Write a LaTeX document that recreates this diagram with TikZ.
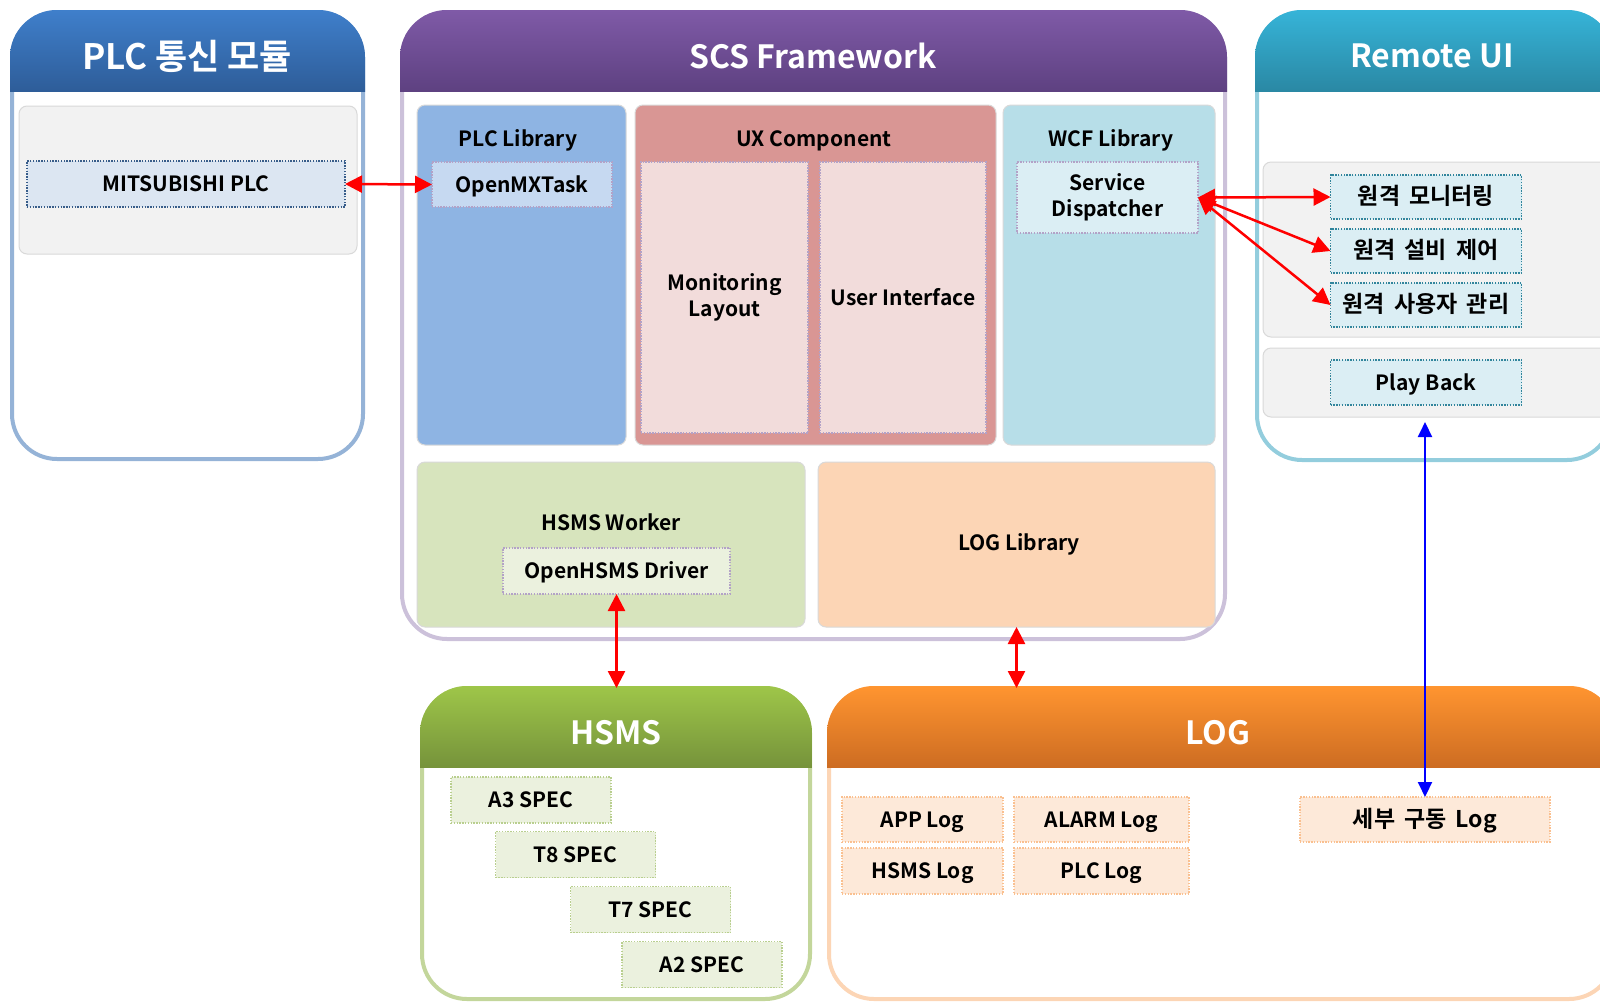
\documentclass[tikz,border=0pt]{standalone}
\usepackage{fontspec}
\setmainfont{Noto Sans CJK KR Bold}
\usetikzlibrary{arrows.meta,calc}

\definecolor{plcframe}{HTML}{95B3D7}
\definecolor{plctop}{HTML}{3F7FCB}
\definecolor{plcbot}{HTML}{2E5D99}
\definecolor{scsframe}{HTML}{CCC1DA}
\definecolor{scstop}{HTML}{7F5AA7}
\definecolor{scsbot}{HTML}{5E4181}
\definecolor{remframe}{HTML}{93CDDD}
\definecolor{remtop}{HTML}{36B4D8}
\definecolor{rembot}{HTML}{2A88A4}
\definecolor{hsmsframe}{HTML}{C3D69B}
\definecolor{hsmstop}{HTML}{9EC649}
\definecolor{hsmsbot}{HTML}{76933B}
\definecolor{logframe}{HTML}{FCD5B5}
\definecolor{logtop}{HTML}{FF9530}
\definecolor{logbot}{HTML}{CD6C22}
\definecolor{plclib}{HTML}{8EB4E3}
\definecolor{uxcomp}{HTML}{D99694}
\definecolor{wcflib}{HTML}{B7DEE8}
\definecolor{hsmswork}{HTML}{D7E4BD}
\definecolor{loglib}{HTML}{FCD5B5}
\definecolor{greypanel}{HTML}{F2F2F2}
\definecolor{panelline}{HTML}{D9D9D9}
\definecolor{lavender}{HTML}{B3A2C7}
\definecolor{mitsufill}{HTML}{DCE6F2}
\definecolor{mitsuline}{HTML}{385D8A}
\definecolor{mxfill}{HTML}{C6D9F1}
\definecolor{uxfill}{HTML}{F2DCDB}
\definecolor{bluefill}{HTML}{DBEEF4}
\definecolor{tealline}{HTML}{31859C}
\definecolor{greenfill}{HTML}{EBF1DE}
\definecolor{greenline}{HTML}{B9CF8F}
\definecolor{orangefill}{HTML}{FDE9D9}
\definecolor{orangeline}{HTML}{FAC090}

\newcommand\widespace{\spaceskip=0.4em\relax}

\tikzset{
  frame/.style={draw=#1, line width=4pt, fill=white, rounded corners=45pt,
    inner sep=0pt, outer sep=0pt},
  panel/.style={fill=#1, draw=panelline, line width=1pt, rounded corners=8pt,
    inner sep=0pt, outer sep=0pt},
  dbox/.style 2 args={fill=#1, draw=#2, line width=1.3pt,
    dash pattern=on 1.4pt off 1.4pt, inner sep=0pt, outer sep=0pt,
    font=\fontsize{21}{25}\selectfont, align=center,
    text height=15pt, text depth=0pt},
  twoline/.style={text height=, text depth=, font=\fontsize{21}{26}\selectfont},
  kor/.style={font=\fontsize{23}{26}\selectfont\widespace},
  title/.style={text=white, font=\fontsize{32}{38}\selectfont, inner sep=0pt},
  kortitle/.style={font=\fontsize{35}{40}\selectfont},
  lbl/.style={text=black, font=\fontsize{21}{25}\selectfont, align=center, inner sep=0pt,
    text height=15pt, text depth=0pt},
  redarrow/.style={draw=red, line width=2.5pt,
    {Triangle[length=17pt,width=17pt]}-{Triangle[length=17pt,width=17pt]}},
  bluearrow/.style={draw=blue, line width=2pt,
    {Triangle[length=15pt,width=14pt]}-{Triangle[length=15pt,width=14pt]}},
}

% gradient header band clipped to the rounded frame outline
\newcommand\headerband[7]{%
  \begin{scope}
    \clip[rounded corners=47pt] (#1-2,#2-2) rectangle (#3+2,#4+2);
    \shade[top color=#6, bottom color=#7] (#1-2,#2-2) rectangle (#3+2,#5);
  \end{scope}}

\begin{document}
\begin{tikzpicture}[x=1pt,y=-1pt]
\useasboundingbox (0,0) rectangle (1600,1002);
\clip (0,0) rectangle (1600,1002);

% ---------- outer frames ----------
\node[frame=plcframe, minimum width=351pt, minimum height=447pt] (plcmod) at (187.5,235.5) {};
\node[frame=scsframe, minimum width=823pt, minimum height=627pt] (scs) at (813.5,325.5) {};
\node[frame=remframe, minimum width=355pt, minimum height=448pt] (remote) at (1434.5,236) {};
\node[frame=hsmsframe, minimum width=388pt, minimum height=311pt] (hsms) at (616,843.5) {};
\node[frame=logframe, minimum width=785pt, minimum height=311pt] (logf) at (1221.5,843.5) {};

\headerband{12}{12}{363}{459}{91}{plctop}{plcbot}
\headerband{402}{12}{1225}{639}{91}{scstop}{scsbot}
\headerband{1257}{12}{1612}{460}{91}{remtop}{rembot}
\headerband{422}{688}{810}{999}{767}{hsmstop}{hsmsbot}
\headerband{829}{688}{1614}{999}{767}{logtop}{logbot}

\node[title, kortitle] (plctitle) at (187,56) {PLC 통신 모듈};
\node[title] (scstitle) at (813,56) {SCS Framework};
\node[title] (remtitle) at (1432,56) {Remote UI};
\node[title] (hsmstitle) at (616,733) {HSMS};
\node[title] (logtitle) at (1218,733) {LOG};

% ---------- PLC communication module ----------
\node[panel=greypanel, minimum width=338pt, minimum height=148pt] (plcpanel) at (188,180) {};
\node[dbox={mitsufill}{mitsuline}, minimum width=318pt, minimum height=46pt] (mitsu) at (186,184) {MITSUBISHI PLC};

% ---------- SCS Framework ----------
\node[panel=plclib, minimum width=209pt, minimum height=340pt] (plclibp) at (521.5,275) {};
\node[panel=uxcomp, minimum width=361pt, minimum height=340pt] (uxp) at (815.5,275) {};
\node[panel=wcflib, minimum width=212pt, minimum height=340pt] (wcfp) at (1109,275) {};
\node[panel=hsmswork, minimum width=388pt, minimum height=165pt] (workerp) at (611,544.5) {};
\node[panel=loglib, minimum width=397pt, minimum height=165pt] (loglibp) at (1016.5,544.5) {};

\node[lbl] (plclibt) at (518,139) {PLC Library};
\node[lbl] (uxt) at (814,139) {UX Component};
\node[lbl] (wcft) at (1111,139) {WCF Library};
\node[lbl] (workert) at (611,523) {HSMS Worker};
\node[lbl] (loglibt) at (1019,543) {LOG Library};

\node[dbox={mxfill}{lavender}, minimum width=180pt, minimum height=45pt] (openmx) at (522,184.5) {OpenMXTask};
\node[dbox={uxfill}{lavender}, twoline, minimum width=167pt, minimum height=271pt] (monlay) at (724.5,297.5) {Monitoring\\Layout};
\node[dbox={uxfill}{lavender}, minimum width=166pt, minimum height=271pt] (userif) at (903,297.5) {User Interface};
\node[dbox={bluefill}{lavender}, twoline, minimum width=181pt, minimum height=71pt] (dispatch) at (1107.5,197.5) {Service\\Dispatcher};
\node[dbox={greenfill}{lavender}, minimum width=227pt, minimum height=46pt] (driver) at (616.5,571) {OpenHSMS Driver};

% ---------- Remote UI ----------
\node[panel=greypanel, minimum width=357pt, minimum height=175pt] (rempanel) at (1441.5,249.5) {};
\node[panel=greypanel, minimum width=357pt, minimum height=69pt] (pbpanel) at (1441.5,382.5) {};
\node[dbox={bluefill}{tealline}, kor, minimum width=191pt, minimum height=44pt] (remmon) at (1426,197) {원격 모니터링};
\node[dbox={bluefill}{tealline}, kor, minimum width=191pt, minimum height=44pt] (remctl) at (1426,251) {원격 설비 제어};
\node[dbox={bluefill}{tealline}, kor, minimum width=191pt, minimum height=44pt] (remusr) at (1426,305) {원격 사용자 관리};
\node[dbox={bluefill}{tealline}, minimum width=191pt, minimum height=45pt] (playback) at (1426,382.5) {Play Back};

% ---------- HSMS ----------
\node[dbox={greenfill}{greenline}, minimum width=160pt, minimum height=46pt] (a3) at (531,800) {A3 SPEC};
\node[dbox={greenfill}{greenline}, minimum width=160pt, minimum height=46pt] (t8) at (575.5,854.5) {T8 SPEC};
\node[dbox={greenfill}{greenline}, minimum width=160pt, minimum height=46pt] (t7) at (650.5,909.5) {T7 SPEC};
\node[dbox={greenfill}{greenline}, minimum width=160pt, minimum height=46pt] (a2) at (702,964.5) {A2 SPEC};

% ---------- LOG ----------
\node[dbox={orangefill}{orangeline}, minimum width=161pt, minimum height=45pt] (applog) at (922.5,819.5) {APP Log};
\node[dbox={orangefill}{orangeline}, minimum width=175pt, minimum height=45pt] (alarmlog) at (1101.5,819.5) {ALARM Log};
\node[dbox={orangefill}{orangeline}, minimum width=161pt, minimum height=46pt] (hsmslog) at (922.5,871) {HSMS Log};
\node[dbox={orangefill}{orangeline}, minimum width=175pt, minimum height=46pt] (plclog) at (1101.5,871) {PLC Log};
\node[dbox={orangefill}{orangeline}, kor, minimum width=250pt, minimum height=45pt] (detaillog) at (1425,819.5) {세부 구동 Log};

% ---------- connectors ----------
\draw[redarrow] (mitsu.east) -- (openmx.west);
\draw[redarrow] (dispatch.east) -- (remmon.west);
\draw[redarrow] (dispatch.east) -- (remctl.west);
\draw[redarrow] (dispatch.east) -- (remusr.west);
\draw[redarrow] (driver.south) -- (driver.south |- hsms.north);
\draw[redarrow] (loglibp.south) -- (loglibp.south |- logf.north);
\draw[bluearrow, shorten <=5pt] (detaillog.north |- pbpanel.south) -- (detaillog.north);
\end{tikzpicture}
\end{document}
